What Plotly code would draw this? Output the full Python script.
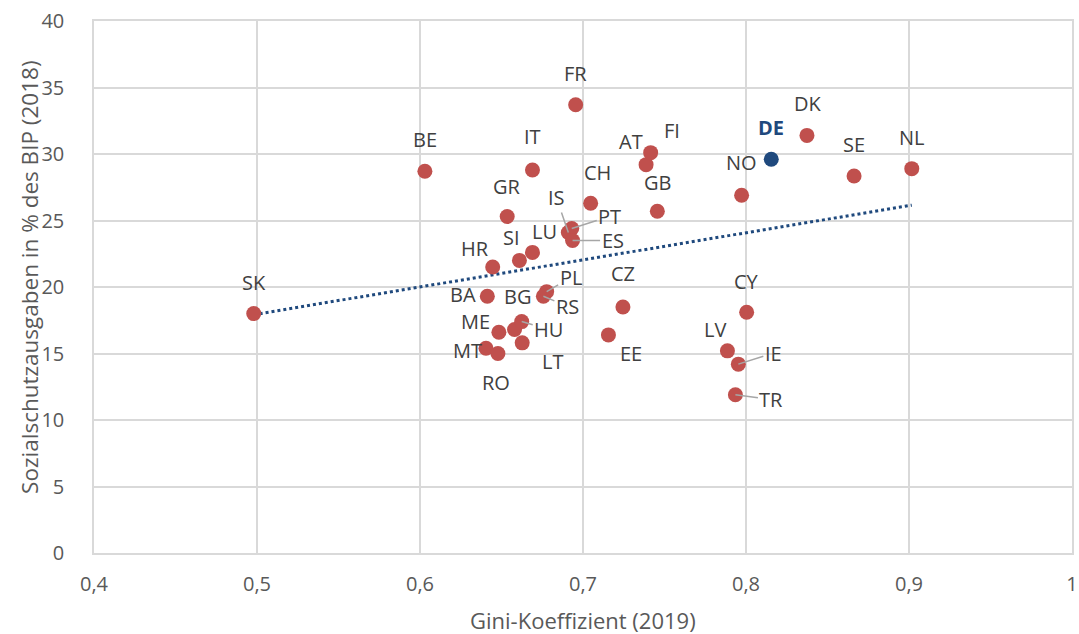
import numpy as np
import plotly.graph_objects as go

# ---- data ----
countries = ["SK", "BE", "FR", "IT", "GR", "CH", "IS", "PT", "ES", "LU", "SI", "HR",
             "BA", "BG", "HU", "PL", "RS", "ME", "MT", "RO", "LT", "CZ", "EE", "AT",
             "FI", "GB", "NO", "DE", "DK", "SE", "NL", "CY", "LV", "IE", "TR"]
gini = [0.498, 0.603, 0.6955, 0.669, 0.6535, 0.7047, 0.691, 0.6931, 0.6936, 0.669, 0.661, 0.6446,
        0.6413, 0.658, 0.6624, 0.6777, 0.6757, 0.6484, 0.6405, 0.6478, 0.6627, 0.7245, 0.7156, 0.7387,
        0.7415, 0.7456, 0.7973, 0.8155, 0.8374, 0.8663, 0.9017, 0.8004, 0.7886, 0.7953, 0.7935]
social = [18.0, 28.7, 33.7, 28.8, 25.3, 26.3, 24.1, 24.4, 23.5, 22.6, 22.0, 21.5,
          19.3, 16.8, 17.4, 19.65, 19.3, 16.6, 15.4, 15.0, 15.8, 18.5, 16.4, 29.2,
          30.1, 25.7, 26.9, 29.6, 31.4, 28.35, 28.9, 18.1, 15.2, 14.2, 11.9]
highlight = "DE"
x_ticks = [0.4, 0.5, 0.6, 0.7, 0.8, 0.9, 1.0]
y_ticks = [0, 5, 10, 15, 20, 25, 30, 35, 40]
x_title = "Gini-Koeffizient (2019)"
y_title = "Sozialschutzausgaben in % des BIP (2018)"

# ---- label placement (pixel offsets: dx right, dy up) ----
label_offsets = {
    "SK": (0, 31), "BE": (0, 32), "FR": (0, 31), "IT": (0, 33), "GR": (0, 30),
    "CH": (7, 31), "LU": (12, 21), "SI": (-8, 23), "HR": (-18, 19), "BA": (-24, 2),
    "BG": (3, 33), "ME": (-23, 11), "MT": (-19, -2), "RO": (-2, -29), "LT": (30, -19),
    "CZ": (0, 33), "EE": (23, -19), "AT": (-15, 23), "FI": (21, 22), "GB": (0, 29),
    "NO": (0, 33), "DE": (0, 32), "DK": (1, 32), "SE": (0, 31), "NL": (0, 31),
    "CY": (0, 31), "LV": (-12, 21),
}
leader_offsets = {
    "IS": (-12, 35), "PT": (38, 12), "ES": (40, 0), "HU": (27, -8),
    "PL": (24, 14), "RS": (24, -10), "IE": (35, 11), "TR": (36, -5),
}

RED = "#C0504D"
BLUE = "#1F497D"
FONT = "Open Sans"

fig = go.Figure()

# trendline (least squares)
k, d = np.polyfit(gini, social, 1)
xt = np.array([min(gini), max(gini)])
fig.add_trace(go.Scatter(x=xt, y=k * xt + d, mode="lines",
                         line=dict(color=BLUE, width=3, dash="dot"),
                         hoverinfo="skip", showlegend=False))

colors = [BLUE if c == highlight else RED for c in countries]
fig.add_trace(go.Scatter(x=gini, y=social, mode="markers",
                         marker=dict(size=15, color=colors, line=dict(width=0)),
                         text=countries, showlegend=False))

for c, xv, yv in zip(countries, gini, social):
    is_hl = c == highlight
    txt = f"<b>{c}</b>" if is_hl else c
    fcol = BLUE if is_hl else "#404040"
    if c in leader_offsets:
        dx, dy = leader_offsets[c]
        fig.add_annotation(x=xv, y=yv, text=txt, showarrow=True, ax=dx, ay=-dy,
                           arrowhead=0, arrowwidth=1.5, arrowcolor="#A6A6A6",
                           standoff=0, font=dict(family=FONT, size=20, color=fcol))
    else:
        dx, dy = label_offsets.get(c, (0, 30))
        fig.add_annotation(x=xv, y=yv, text=txt, showarrow=False,
                           xshift=dx, yshift=dy,
                           font=dict(family=FONT, size=20, color=fcol))

# axis titles
fig.add_annotation(xref="paper", yref="paper", x=0.5, y=-0.126, text=x_title,
                   showarrow=False, xanchor="center", yanchor="middle",
                   font=dict(family=FONT, size=22, color="#595959"))
fig.add_annotation(xref="paper", yref="paper", x=-0.066, y=0.518, text=y_title,
                   showarrow=False, textangle=-90, xanchor="center", yanchor="middle",
                   font=dict(family=FONT, size=22.5, color="#595959"))

fig.update_layout(
    width=1079, height=634,
    margin=dict(l=94, r=7, t=21, b=81),
    paper_bgcolor="white", plot_bgcolor="white",
    separators=",.",
    font=dict(family=FONT, size=20, color="#595959"),
)
fig.update_xaxes(range=[0.4, 1.0], tickvals=x_ticks, showgrid=True, gridcolor="#D9D9D9",
                 gridwidth=1.5, zeroline=False, showline=True, linecolor="#D9D9D9",
                 linewidth=1.5, mirror=True, ticks="", ticklabelstandoff=12,
                 automargin=False, ticklabeloverflow="allow")
fig.update_yaxes(range=[0, 40], tickvals=y_ticks, showgrid=True, gridcolor="#D9D9D9",
                 gridwidth=1.5, zeroline=False, showline=True, linecolor="#D9D9D9",
                 linewidth=1.5, mirror=True, ticks="", ticklabelstandoff=24,
                 automargin=False, ticklabeloverflow="allow")

fig.write_html("out.html", config={"displayModeBar": False},
               post_script="document.body.style.margin='0';document.body.style.overflow='hidden';")
